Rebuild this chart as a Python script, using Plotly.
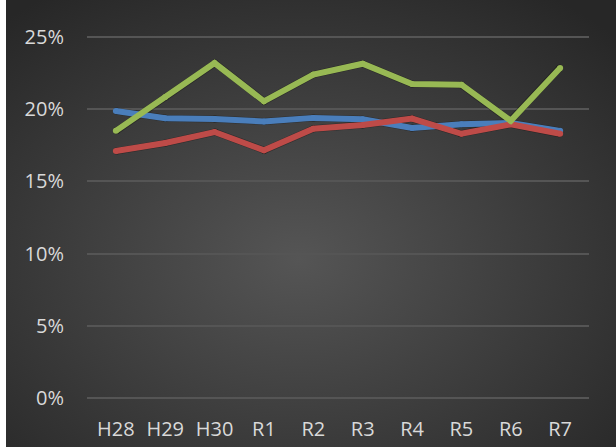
import base64
import plotly.graph_objects as go

# Survey years and the three rate series (percent)
years = ["H28", "H29", "H30", "R1", "R2", "R3", "R4", "R5", "R6", "R7"]
series_blue = [19.87, 19.38, 19.32, 19.15, 19.4, 19.3, 18.7, 18.95, 19.05, 18.5]
series_red = [17.1, 17.66, 18.42, 17.15, 18.65, 18.9, 19.35, 18.3, 18.95, 18.3]
series_green = [18.5, 20.85, 23.2, 20.55, 22.4, 23.15, 21.75, 21.7, 19.2, 22.85]
y_ticks = [0, 5, 10, 15, 20, 25]
y_tick_labels = ["0%", "5%", "10%", "15%", "20%", "25%"]

W, H = 616, 447
ML, MR, MT, MB = 87, 25, 35, 44
plot_w = W - ML - MR
plot_h = H - MT - MB
SHIFT_X, SHIFT_Y = 2, 3  # drop-shadow offset in px
Y_MIN, Y_MAX = -0.14, 25.14

# radial-gradient backdrop (dark edges, lighter centre)
svg = f"""<svg xmlns='http://www.w3.org/2000/svg' width='{W-6}' height='{H}' viewBox='0 0 {W-6} {H}'>
<defs><radialGradient id='g' cx='48%' cy='58%' r='72%'>
<stop offset='0' stop-color='#555555'/><stop offset='1' stop-color='#272727'/>
</radialGradient></defs>
<rect width='100%' height='100%' fill='url(#g)'/></svg>"""
bg_src = "data:image/svg+xml;base64," + base64.b64encode(svg.encode()).decode()

fig = go.Figure()

colors = {"blue": "#4A7EBB", "red": "#BE4B48", "green": "#98B954"}
data = [("blue", series_blue), ("red", series_red), ("green", series_green)]

# soft shadows on an offset overlay axis pair (drawn first)
for name, vals in data:
    fig.add_trace(go.Scatter(
        x=years, y=vals, xaxis="x2", yaxis="y2", mode="lines+markers",
        line=dict(color="rgba(0,0,0,0.3)", width=7),
        marker=dict(color="rgba(0,0,0,0.3)", size=7),
        hoverinfo="skip", showlegend=False,
    ))

# the coloured lines on a top overlay aligned with the main axes
for name, vals in data:
    fig.add_trace(go.Scatter(
        x=years, y=vals, xaxis="x3", yaxis="y3", mode="lines+markers",
        line=dict(color=colors[name], width=6),
        marker=dict(color=colors[name], size=6),
        showlegend=False,
    ))

# invisible helper so the base axes render
fig.add_trace(go.Scatter(x=years, y=[None] * len(years), showlegend=False,
                         hoverinfo="skip"))

font = dict(family="Open Sans, sans-serif", size=20, color="#D9D9D9")
main_x_dom = [0, (plot_w - SHIFT_X) / plot_w]
main_y_dom = [SHIFT_Y / plot_h, 1]

fig.update_layout(
    width=W, height=H,
    margin=dict(l=ML, r=MR, t=MT, b=MB, pad=0),
    paper_bgcolor="white",
    plot_bgcolor="rgba(0,0,0,0)",
    font=font,
    xaxis=dict(
        domain=main_x_dom, type="category", categoryarray=years,
        showgrid=False, zeroline=False, showline=False, automargin=False,
        ticks="", ticklabelstandoff=15, tickfont=font,
    ),
    yaxis=dict(
        domain=main_y_dom, range=[Y_MIN, Y_MAX], automargin=False,
        tickvals=y_ticks, ticktext=y_tick_labels,
        showgrid=True, gridcolor="#555555", gridwidth=1.5,
        zeroline=False, showline=False, ticks="",
        ticklabelstandoff=22, tickfont=font,
    ),
    xaxis2=dict(domain=[SHIFT_X / plot_w, 1], type="category",
                categoryarray=years, overlaying="x", visible=False, anchor="y2"),
    yaxis2=dict(domain=[0, (plot_h - SHIFT_Y) / plot_h], range=[Y_MIN, Y_MAX],
                overlaying="y", visible=False, anchor="x2"),
    xaxis3=dict(domain=main_x_dom, type="category", categoryarray=years,
                overlaying="x", visible=False, anchor="y3"),
    yaxis3=dict(domain=main_y_dom, range=[Y_MIN, Y_MAX],
                overlaying="y", visible=False, anchor="x3"),
)

# backdrop image spans from 6px to the right edge, full height
fig.add_layout_image(
    source=bg_src, xref="paper", yref="paper",
    x=(6 - ML) / plot_w, y=(H - MB) / plot_h,
    sizex=(W - 6) / plot_w, sizey=H / plot_h,
    xanchor="left", yanchor="top", sizing="stretch", layer="below",
)

fig.write_html("out.html")
